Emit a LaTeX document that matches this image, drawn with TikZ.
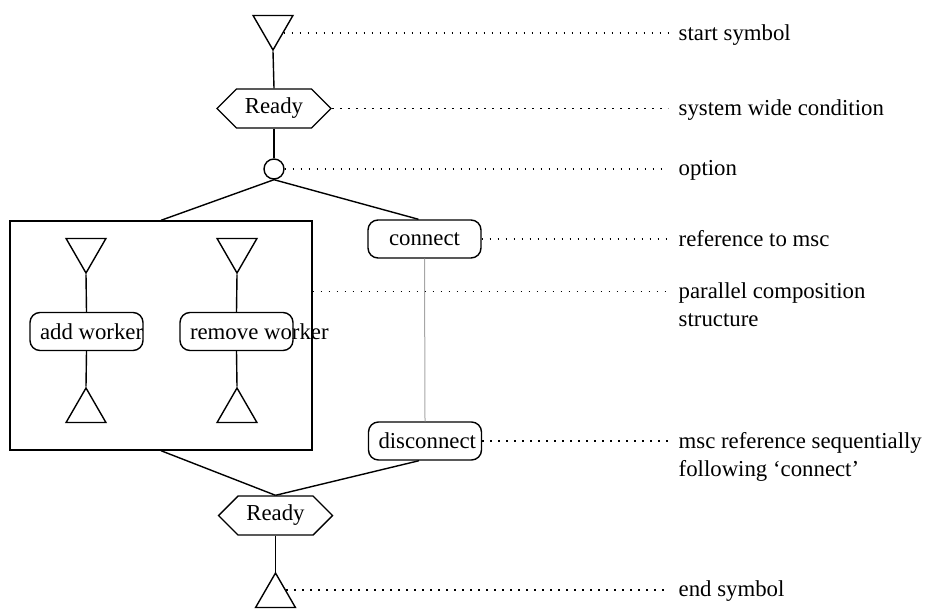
\documentclass[tikz,border=0pt]{standalone}
\usepackage{fontspec}
\setmainfont{Liberation Serif}
\usetikzlibrary{calc,shapes.geometric,shapes.symbols}
\newcommand{\reftext}[2][l]{\makebox[46.5pt][#1]{#2}}
\tikzset{
  every node/.style={font=\fontsize{11.4}{14}\selectfont},
  starttri/.style={draw, regular polygon, regular polygon sides=3, shape border rotate=180, minimum size=23pt, inner sep=0pt},
  endtri/.style={draw, regular polygon, regular polygon sides=3, minimum size=23pt, inner sep=0pt},
  cond/.style={draw, signal, signal to=east and west, minimum width=57pt, minimum height=19.5pt, inner sep=1pt},
  mscref/.style={draw, rounded corners=5pt, minimum width=56.5pt, minimum height=19pt, inner xsep=5pt, inner ysep=0pt},
  optcirc/.style={draw, circle, minimum size=10pt, inner sep=0pt},
  leader/.style={line width=0.7pt, dash pattern=on 0.8pt off 3.2pt},
  note/.style={anchor=base west, yshift=-3.5pt, inner xsep=5pt, inner ysep=0pt, align=left},
  twonote/.style={note, yshift=-14pt}
}

\begin{document}
\begin{tikzpicture}[x=0.5pt, y=-0.5pt, line width=0.7pt]
    \useasboundingbox (0,0) rectangle (929,609);
    \coordinate (col) at (668,0);
    \node [starttri] (start) at (273,27) {};
    \node [cond] (ready1) at (274,108.5) {Ready};
    \node [optcirc] (opt) at (274,169) {};
    \node [draw, minimum width=151pt, minimum height=114.5pt, inner sep=0pt] (par) at (161,335.5) {};
    \node [starttri] (addstart) at (86,250) {};
    \node [mscref] (add) at (86.5,331.5) {\reftext{add worker}};
    \node [endtri] (addend) at (86,411) {};
    \node [starttri] (remstart) at (237,250) {};
    \node [mscref] (rem) at (236.5,331.5) {\reftext{remove worker}};
    \node [endtri] (remend) at (237,411) {};
    \node [mscref] (connect) at (424.5,239) {\reftext[c]{connect}};
    \node [mscref] (disconnect) at (425,441) {\reftext{disconnect}};
    \node [cond] (ready2) at (275.5,515.5) {Ready};
    \node [endtri] (end) at (275.5,596) {};

    \draw (start.corner 1) -- (ready1.north);
    \draw (ready1.south) -- (opt.north);
    \draw (opt.south) -- (par.north);
    \draw (opt.south) -- ($(connect.north)+(-6,0)$);
    \draw (addstart.corner 1) -- (add.north);
    \draw (add.south) -- (addend.corner 1);
    \draw (remstart.corner 1) -- (rem.north);
    \draw (rem.south) -- (remend.corner 1);
    \draw [gray!70, line width=0.5pt] (connect.south) -- (disconnect.north);
    \draw (par.south) -- (ready2.north);
    \draw ($(disconnect.south)+(-6,0)$) -- (ready2.north);
    \draw (ready2.south) -- (end.corner 1);

    \coordinate (pstart) at ($(start.corner 1)!0.5!(start.corner 2)$);
    \coordinate (pend) at ($(end.corner 1)!0.5!(end.corner 3)$);
    \coordinate (ppar) at ($(par.north east)!0.31!(par.south east)$);
    \node [note] (nstart) at (pstart -| col) {start symbol};
    \node [note] (nready) at (ready1.east -| col) {system wide condition};
    \node [note] (nopt) at (opt.east -| col) {option};
    \node [note] (nconnect) at (connect.east -| col) {reference to msc};
    \node [twonote] (npar) at (ppar -| col) {parallel composition\\structure};
    \node [twonote] (ndisconnect) at (disconnect.east -| col) {msc reference sequentially\\following `connect'};
    \node [note] (nend) at (pend -| col) {end symbol};
    \draw [leader] (pstart) -- (pstart -| col);
    \draw [leader] (ready1.east) -- (ready1.east -| col);
    \draw [leader] (opt.east) -- (opt.east -| col);
    \draw [leader] (connect.east) -- (connect.east -| col);
    \draw [leader] (ppar) -- (ppar -| col);
    \draw [leader] (disconnect.east) -- (disconnect.east -| col);
    \draw [leader] (pend) -- (pend -| col);
\end{tikzpicture}
\end{document}
